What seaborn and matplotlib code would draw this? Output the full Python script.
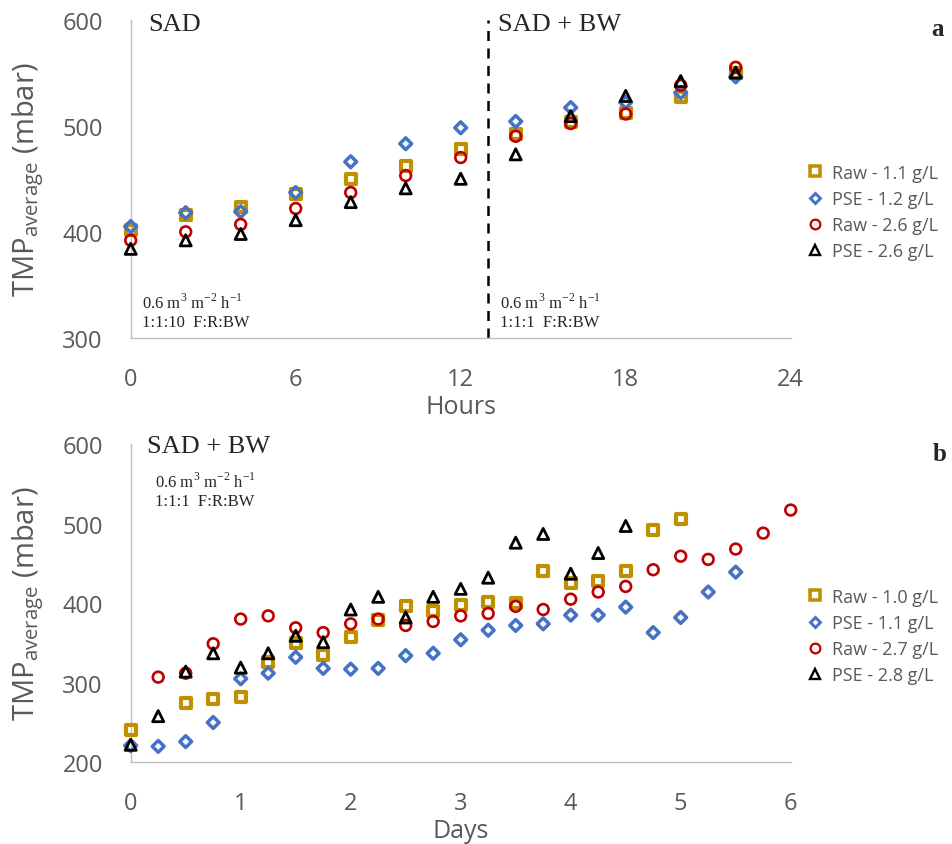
import numpy as np
import pandas as pd
import matplotlib
matplotlib.use("Agg")
import matplotlib.pyplot as plt
from matplotlib.lines import Line2D
import seaborn as sns

# ---------------- data ----------------
# Panel a: SAD, then SAD + BW (switch at 13 h)
hours = [0, 2, 4, 6, 8, 10, 12, 14, 16, 18, 20, 22]
a_raw_11 = [402, 416, 423, 436, 450, 462, 478, 492, 503, 512, 527, 550]
a_pse_12 = [405, 418, 419, 437, 466, 483, 498, 504, 517, 522, 531, 546]
a_raw_26 = [392, 400, 407, 422, 437, 453, 470, 490, 502, 511, 538, 555]
a_pse_26 = [384, 392, 398, 411, 428, 441, 450, 473, 509, 528, 542, 550]
a_labels = ["Raw - 1.1 g/L", "PSE - 1.2 g/L", "Raw - 2.6 g/L", "PSE - 2.6 g/L"]
switch_hour = 13

# Panel b: SAD + BW over days
b_raw_10_days = [0, 0.5, 0.75, 1, 1.25, 1.5, 1.75, 2, 2.25, 2.5, 2.75, 3, 3.25,
                 3.5, 3.75, 4, 4.25, 4.5, 4.75, 5]
b_raw_10 = [241, 274, 279, 282, 326, 350, 335, 358, 379, 396, 390, 398, 402,
            400, 441, 425, 428, 441, 492, 506]
b_pse_11_days = [0, 0.25, 0.5, 0.75, 1, 1.25, 1.5, 1.75, 2, 2.25, 2.5, 2.75, 3,
                 3.25, 3.5, 3.75, 4, 4.25, 4.5, 4.75, 5, 5.25, 5.5]
b_pse_11 = [221, 220, 226, 250, 305, 312, 332, 318, 317, 318, 334, 337, 354,
            366, 372, 374, 385, 385, 395, 363, 382, 414, 439]
b_raw_27_days = [0.25, 0.5, 0.75, 1, 1.25, 1.5, 1.75, 2, 2.25, 2.5, 2.75, 3,
                 3.25, 3.5, 3.75, 4, 4.25, 4.5, 4.75, 5, 5.25, 5.5, 5.75, 6]
b_raw_27 = [307, 312, 349, 380, 384, 369, 363, 374, 380, 372, 377, 384,
            387, 396, 392, 405, 414, 421, 442, 459, 455, 468, 488, 517]
b_pse_28_days = [0, 0.25, 0.5, 0.75, 1, 1.25, 1.5, 1.75, 2, 2.25, 2.5, 2.75,
                 3, 3.25, 3.5, 3.75, 4, 4.25, 4.5]
b_pse_28 = [222, 258, 314, 337, 319, 337, 359, 351, 392, 408, 382, 408,
            418, 432, 476, 487, 437, 463, 497]
b_labels = ["Raw - 1.0 g/L", "PSE - 1.1 g/L", "Raw - 2.7 g/L", "PSE - 2.8 g/L"]

# ---------------- style ----------------
sns.set_theme(style="white")
plt.rcParams["font.family"] = ["Open Sans", "DejaVu Sans"]

GOLD, BLUE, RED, BLACK = "#BF9000", "#4472C4", "#C00000", "#000000"
TEXT_GRAY = "#595959"
SPINE_GRAY = "#BFBFBF"
SERIF = ["Liberation Serif", "DejaVu Serif"]

# marker, size (pt^2), edge width (pt), colour
styles = [
    ("s", 52, 3.0, GOLD),
    ("D", 36, 2.5, BLUE),
    ("o", 60, 1.9, RED),
    ("^", 64, 2.0, BLACK),
]

W, H = 952, 845
fig = plt.figure(figsize=(W / 100, H / 100), dpi=100)


def fx(px):
    return px / W


def fy(py):
    return 1 - py / H


ax_a = fig.add_axes([fx(130.7), fy(339), fx(790.7) - fx(130.7), fy(20.5) - fy(339)])
ax_b = fig.add_axes([fx(130.7), fy(763.3), fx(790.7) - fx(130.7), fy(445) - fy(763.3)])


def draw_series(ax, xs, ys, style):
    marker, s, lw, color = style
    df = pd.DataFrame({"x": xs, "y": ys})
    sns.scatterplot(data=df, x="x", y="y", ax=ax, marker=marker, s=s,
                    facecolor="none", edgecolor=color, linewidth=lw,
                    zorder=3, clip_on=False)


def style_axes(ax, xlim, xticks, ylim, yticks, xlabel):
    ax.set_xlim(*xlim)
    ax.set_ylim(*ylim)
    ax.set_xticks(xticks)
    ax.set_yticks(yticks)
    for side in ("top", "right"):
        ax.spines[side].set_visible(False)
    for side in ("left", "bottom"):
        ax.spines[side].set_color(SPINE_GRAY)
        ax.spines[side].set_linewidth(1.0)
    ax.tick_params(axis="x", direction="in", length=6.5, width=1.0,
                   color=SPINE_GRAY, labelsize=17, labelcolor=TEXT_GRAY, pad=21)
    ax.tick_params(axis="y", direction="in", length=5.5, width=1.0,
                   color=SPINE_GRAY, labelsize=17, labelcolor=TEXT_GRAY, pad=20)
    ax.set_xlabel(xlabel, fontsize=18, color=TEXT_GRAY, labelpad=2)
    ax.set_ylabel(r"TMP$_{\mathregular{average}}$ (mbar)", fontsize=21,
                  color=TEXT_GRAY)
    ax.yaxis.set_label_coords(-0.129, 0.5)
    ax.grid(False)


def add_legend(ax, labels, center_py):
    handles = [Line2D([], [], ls="", marker=m, markersize=np.sqrt(s) * 0.9,
                      markerfacecolor="none", markeredgecolor=c,
                      markeredgewidth=lw * 0.85)
               for (m, s, lw, c) in styles]
    leg = ax.legend(handles, labels, loc="center left",
                    bbox_to_anchor=(fx(806), fy(center_py)),
                    bbox_transform=fig.transFigure, frameon=False,
                    fontsize=13, handlelength=1.0, handletextpad=0.45,
                    borderpad=0, borderaxespad=0, labelspacing=0.45)
    for t in leg.get_texts():
        t.set_color(TEXT_GRAY)


# ---------------- panel a ----------------
for ys, st in zip([a_raw_11, a_pse_12, a_raw_26, a_pse_26], styles):
    draw_series(ax_a, hours, ys, st)
ax_a.axvline(switch_hour, color="black", lw=1.8, ls=(0, (4, 3)), zorder=2)
style_axes(ax_a, (0, 24), [0, 6, 12, 18, 24], (300, 600), [300, 400, 500, 600],
           "Hours")
add_legend(ax_a, a_labels, 213)

# ---------------- panel b ----------------
b_sets = [(b_raw_10_days, b_raw_10), (b_pse_11_days, b_pse_11),
          (b_raw_27_days, b_raw_27), (b_pse_28_days, b_pse_28)]
for (xs, ys), st in zip(b_sets, styles):
    draw_series(ax_b, xs, ys, st)
style_axes(ax_b, (0, 6), [0, 1, 2, 3, 4, 5, 6], (200, 600),
           [200, 300, 400, 500, 600], "Days")
add_legend(ax_b, b_labels, 637)

# ---------------- annotations ----------------
flux = r"0.6 m$^{\mathregular{3}}$ m$^{\mathregular{-2}}$ h$^{\mathregular{-1}}$"

fig.text(fx(148), fy(25), "SAD", family=SERIF, fontsize=19, va="center", ha="left")
fig.text(fx(498), fy(25), "SAD + BW", family=SERIF, fontsize=19, va="center", ha="left")
fig.text(fx(142), fy(303), flux, family=SERIF, fontsize=12, va="center", ha="left")
fig.text(fx(142), fy(323), "1:1:10  F:R:BW", family=SERIF, fontsize=12, va="center", ha="left")
fig.text(fx(500), fy(303), flux, family=SERIF, fontsize=12, va="center", ha="left")
fig.text(fx(500), fy(323), "1:1:1  F:R:BW", family=SERIF, fontsize=12, va="center", ha="left")

fig.text(fx(147), fy(447), "SAD + BW", family=SERIF, fontsize=19, va="center", ha="left")
fig.text(fx(155), fy(482), flux, family=SERIF, fontsize=12, va="center", ha="left")
fig.text(fx(155), fy(502), "1:1:1  F:R:BW", family=SERIF, fontsize=12, va="center", ha="left")

fig.text(fx(937), fy(29), "a", family=SERIF, fontsize=18, fontweight="bold",
         va="center", ha="center")
fig.text(fx(940), fy(455), "b", family=SERIF, fontsize=18, fontweight="bold",
         va="center", ha="center")

fig.savefig("out.png", dpi=100, facecolor="white")
